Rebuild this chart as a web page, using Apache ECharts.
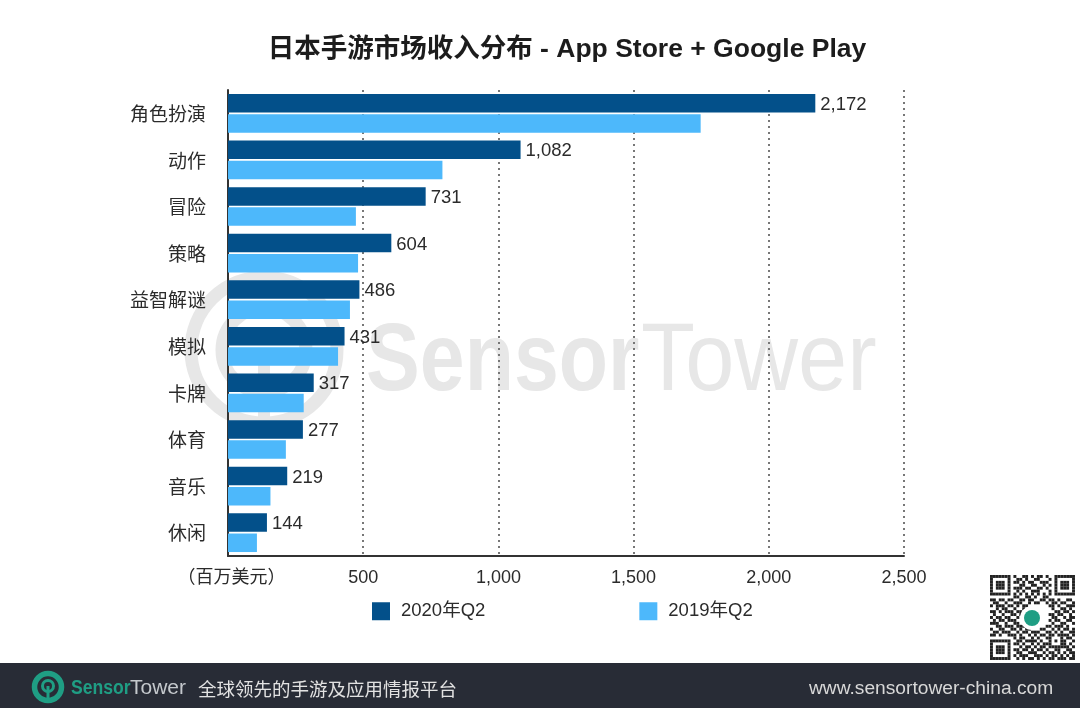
<!DOCTYPE html>
<html lang="zh">
<head>
    <meta charset="UTF-8">
    <title>日本手游市场收入分布</title>
    <script src="https://cdn.jsdelivr.net/npm/echarts@6/dist/echarts.min.js"></script>
    <style>
        html, body { margin: 0; padding: 0; background: #fff; }
        #container { width: 1080px; height: 711px; }
    </style>
</head>
<body>
<div id="container"></div>
<script type="text/javascript">
    const categories = ['角色扮演', '动作', '冒险', '策略', '益智解谜', '模拟', '卡牌', '体育', '音乐', '休闲'];
    const values2020 = [2172, 1082, 731, 604, 486, 431, 317, 277, 219, 144];
    const values2019 = [1748, 793, 473, 481, 451, 407, 280, 214, 157, 107];
    const seriesNames = ['2020年Q2', '2019年Q2'];
    const unitLabel = '（百万美元）';

    const FONT = '"Liberation Sans", "Noto Sans CJK SC", sans-serif';
    const TEXT = '#2b2b2b';
    const DARK = '#03508a';
    const LIGHT = '#4db8fb';
    const MARK = '#e7e7e7';
    const TEAL = '#1f9e84';

    // 二维码装饰图案
    const qrRows = [
        '11111110100110101101001111111',
        '10000010011010011000101000001',
        '10111010110101100111001011101',
        '10111010001100110010101011101',
        '10111010111011001101001011101',
        '10000010010100111000101000001',
        '11111110101010101010101111111',
        '00000000110011010011000000000',
        '11011011001101100110110100110',
        '01100100111001011001011011001',
        '10111011010110000000110100111',
        '00101100100100000000010011010',
        '11010111011000000000001101101',
        '01001001101000000000110110010',
        '10110110010000000000011001011',
        '01011011100000000000101100110',
        '11100100110000000000010011001',
        '00110111011100000001101110100',
        '10011001101011000110010101101',
        '01101110010110111001101010011',
        '11010011101001010110110111101',
        '00000000101100101001100010110',
        '11111110011011110100101011001',
        '10000010110100101011100011010',
        '10111010001011010110111111101',
        '10111010110110101101001100110',
        '10111010011001110010110101011',
        '10000010101110011101011010101',
        '11111110010101101010110111011'
    ];

    function ring(cx, cy, r, width, color, z) {
        return { type: 'circle', z: z, shape: { cx: cx, cy: cy, r: r }, style: { fill: 'transparent', stroke: color, lineWidth: width } };
    }

    function qrGraphics(x, y, size) {
        let items = [];
        qrRows.forEach(function (row, i) {
            row.split('').forEach(function (cell, j) {
                if (cell === '1') {
                    items.push({ type: 'rect', z: 5, shape: { x: x + j * size, y: y + i * size, width: size, height: size }, style: { fill: '#222' } });
                }
            });
        });
        return items;
    }

    let dom = document.getElementById('container');
    let myChart = echarts.init(dom);
    let option = {
        animation: false,
        backgroundColor: '#fff',
        textStyle: { fontFamily: FONT },
        title: {
            text: '日本手游市场收入分布 - App Store + Google Play',
            left: 562,
            top: 31,
            textAlign: 'center',
            textStyle: { fontFamily: FONT, fontSize: 26.5, fontWeight: 'bold', color: '#1c1c1c' }
        },
        legend: {
            left: 367,
            top: 597,
            itemWidth: 18,
            itemHeight: 18,
            itemGap: 154,
            icon: 'rect',
            data: seriesNames,
            textStyle: { fontFamily: FONT, fontSize: 18.5, color: TEXT, padding: [2, 0, 0, 6] }
        },
        grid: { left: 228, right: 176, top: 90, bottom: 155 },
        xAxis: {
            type: 'value',
            min: 0,
            max: 2500,
            interval: 500,
            axisLine: { show: true, onZero: false, lineStyle: { color: '#333', width: 2 } },
            axisTick: { show: false },
            splitLine: { show: true, lineStyle: { type: [2, 4], color: '#777', width: 2 } },
            axisLabel: {
                fontFamily: FONT,
                fontSize: 18,
                color: TEXT,
                margin: 13,
                formatter: function (v) {
                    return v === 0 ? '{u|' + unitLabel + '}' : v.toLocaleString('en-US');
                },
                rich: { u: { fontFamily: FONT, fontSize: 18, color: TEXT, padding: [0, 0, 3, 7] } }
            }
        },
        yAxis: {
            type: 'category',
            inverse: true,
            data: categories,
            axisLine: { lineStyle: { color: '#333', width: 2 } },
            axisTick: { show: false },
            // 文字比刻度中心略低
            axisLabel: { fontFamily: FONT, fontSize: 19, color: TEXT, margin: 22, verticalAlign: 'top', lineHeight: 5 }
        },
        series: [
            {
                name: seriesNames[0],
                type: 'bar',
                data: values2020,
                barWidth: 18.5,
                barGap: '9%',
                itemStyle: { color: DARK },
                label: {
                    show: true,
                    position: 'right',
                    distance: 5,
                    offset: [0, 1.5],
                    fontFamily: FONT,
                    fontSize: 18.5,
                    color: TEXT,
                    formatter: function (p) {
                        return p.value.toLocaleString('en-US');
                    }
                }
            },
            {
                name: seriesNames[1],
                type: 'bar',
                data: values2019,
                barWidth: 18.5,
                itemStyle: { color: LIGHT }
            }
        ],
        graphic: [
            // 水印
            ring(264, 350, 73, 13, MARK, -10),
            ring(264, 350, 42, 13, MARK, -10),
            { type: 'rect', z: -10, shape: { x: 258, y: 352, width: 12, height: 72 }, style: { fill: MARK } },
            { type: 'text', z: -10, x: 366, y: 316, scaleX: 0.84, style: { text: 'Sensor', fontFamily: FONT, fontSize: 96, fontWeight: 'bold', fill: MARK } },
            { type: 'text', z: -10, x: 641, y: 316, scaleX: 0.92, style: { text: 'Tower', fontFamily: FONT, fontSize: 96, fill: MARK } },
            // 底栏
            { type: 'rect', z: 1, shape: { x: 0, y: 663, width: 1080, height: 45 }, style: { fill: '#282c36' } },
            ring(48, 687, 13.5, 5.5, TEAL, 2),
            ring(48, 686, 5.5, 3, TEAL, 2),
            { type: 'rect', z: 2, shape: { x: 46.5, y: 686, width: 3, height: 15 }, style: { fill: TEAL } },
            { type: 'text', z: 2, x: 71, y: 678, scaleX: 0.88, style: { text: 'Sensor', fontFamily: FONT, fontSize: 20, fontWeight: 'bold', fill: TEAL } },
            { type: 'text', z: 2, x: 130, y: 678, style: { text: 'Tower', fontFamily: FONT, fontSize: 21, fill: '#c4c8cc' } },
            { type: 'text', z: 2, x: 198, y: 682, style: { text: '全球领先的手游及应用情报平台', fontFamily: FONT, fontSize: 18.5, fill: '#e2e2e2' } },
            { type: 'text', z: 2, x: 809, y: 679, style: { text: 'www.sensortower-china.com', fontFamily: FONT, fontSize: 19.2, fill: '#d8d8d8' } }
        ].concat(qrGraphics(990, 575, 2.93)).concat([
            // 二维码中心
            { type: 'circle', z: 6, shape: { cx: 1032, cy: 618, r: 12 }, style: { fill: '#fff' } },
            { type: 'circle', z: 7, shape: { cx: 1032, cy: 618, r: 8 }, style: { fill: TEAL } }
        ])
    };
    myChart.setOption(option);
</script>
</body>
</html>
